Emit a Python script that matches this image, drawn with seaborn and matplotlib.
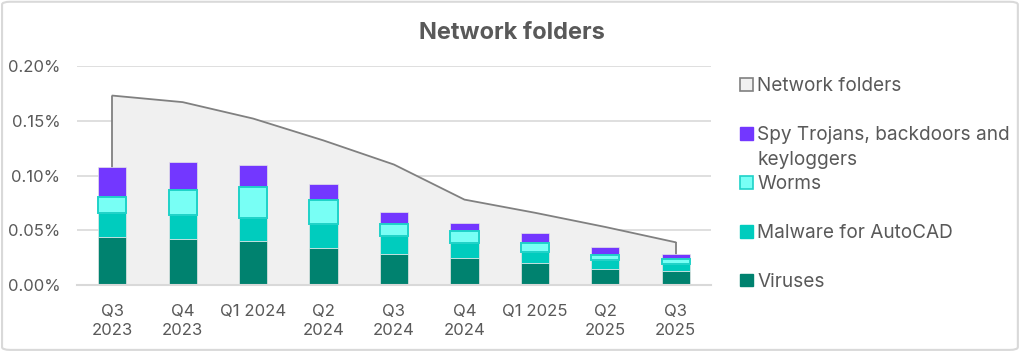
import numpy as np
import matplotlib
matplotlib.use("Agg")
import matplotlib.pyplot as plt
import seaborn as sns
from matplotlib.patches import Patch, FancyBboxPatch

# ---- data (percent) ----
quarters = ["Q3\n2023", "Q4\n2023", "Q1 2024", "Q2\n2024", "Q3\n2024",
            "Q4\n2024", "Q1 2025", "Q2\n2025", "Q3\n2025"]
network_folders = [0.173, 0.167, 0.152, 0.132, 0.110, 0.078, 0.066, 0.053, 0.039]
viruses = [0.044, 0.042, 0.040, 0.034, 0.028, 0.025, 0.020, 0.015, 0.013]
autocad = [0.0215, 0.022, 0.021, 0.0215, 0.017, 0.0135, 0.010, 0.0075, 0.0065]
worms = [0.015, 0.023, 0.0285, 0.022, 0.011, 0.0105, 0.0085, 0.0052, 0.0042]
spy = [0.027, 0.025, 0.020, 0.0145, 0.011, 0.0072, 0.0092, 0.007, 0.0046]

labels = ["Network folders", "Spy Trojans, backdoors and", "Worms",
          "Malware for AutoCAD", "Viruses"]

sns.set_theme(style="white")
plt.rcParams["font.family"] = ["Inter", "DejaVu Sans"]
TXT = "#595959"

c_vir, c_cad, c_worm, c_worm_e, c_spy = "#00826F", "#00CCBE", "#78FFF5", "#1ED2C8", "#7337FF"
c_area, c_line = "#F0F0F0", "#808080"

fig = plt.figure(figsize=(10.24, 3.52), dpi=100)
ax = fig.add_axes([0.0752, 0.1903, 0.6191, 0.6222])

x = np.arange(len(quarters))
nf = np.array(network_folders)

# area
ax.fill_between(x, nf, 0, color=c_area, zorder=1, linewidth=0)
sns.lineplot(x=x, y=nf, ax=ax, color=c_line, lw=1.3, zorder=2)
ax.vlines([x[0], x[-1]], 0, [nf[0], nf[-1]], color=c_line, lw=1.3, zorder=2)

v = np.array(viruses); a = np.array(autocad); w = np.array(worms); s = np.array(spy)
common = dict(ax=ax, width=0.4, order=quarters, zorder=3)
sns.barplot(x=quarters, y=v, color=c_vir, saturation=1, edgecolor="#E6E6E6", linewidth=0.5, **common)
sns.barplot(x=quarters, y=a, bottom=v, color=c_cad, saturation=1, edgecolor="#E6E6E6", linewidth=0.5, **common)
sns.barplot(x=quarters, y=s, bottom=v + a + w, color=c_spy, saturation=1, edgecolor="#E6E6E6", linewidth=0.5, **common)
sns.barplot(x=quarters, y=w, bottom=v + a, color=c_worm, saturation=1, edgecolor=c_worm_e, linewidth=1.4, **common)

ax.set_xlim(-0.5, len(quarters) - 0.5)
ax.set_ylim(0, 0.20)
yt = [0, 0.05, 0.10, 0.15, 0.20]
ax.set_yticks(yt)
ax.set_yticklabels([f"{t:.2f}%" for t in yt])
ax.set_xticks(x)
ax.set_xticklabels(quarters, linespacing=1.3)
ax.set_xlabel(""); ax.set_ylabel("")
ax.tick_params(axis="both", length=0, labelsize=12, colors=TXT)
ax.tick_params(axis="x", pad=14)
ax.tick_params(axis="y", pad=12)
ax.grid(axis="y", color="#D9D9D9", lw=1.2, zorder=0)
ax.set_axisbelow(True)
for sp in ["top", "right", "left"]:
    ax.spines[sp].set_visible(False)
ax.spines["bottom"].set_color("#D9D9D9")
ax.spines["bottom"].set_linewidth(1.5)
ax.spines["bottom"].set_zorder(4)

fig.text(0.5, 0.906, "Network folders", ha="center", va="center",
         fontsize=17, fontweight="bold", color=TXT)

handles = [
    Patch(facecolor=c_area, edgecolor=c_line, lw=1.2),
    Patch(facecolor=c_spy, edgecolor=c_spy),
    Patch(facecolor=c_worm, edgecolor=c_worm_e, lw=1.2),
    Patch(facecolor=c_cad, edgecolor=c_cad),
    Patch(facecolor=c_vir, edgecolor=c_vir),
]
leg = fig.legend(handles, labels, loc="upper left", bbox_to_anchor=(0.723, 0.780),
                 frameon=False, fontsize=13.7, labelspacing=1.62, handlelength=0.64,
                 handleheight=0.64, handletextpad=0.25, borderaxespad=0, borderpad=0)
for t in leg.get_texts():
    t.set_color(TXT)

fig.canvas.draw()
bb = leg.get_texts()[1].get_window_extent()
fig.text(bb.x0 / fig.bbox.width, (bb.y0 - 6.5) / fig.bbox.height, "keyloggers",
         ha="left", va="top", fontsize=13.7, color=TXT)

fig.patches.append(FancyBboxPatch((0.002, 0.006), 0.992, 0.989,
                                  boxstyle="round,pad=0,rounding_size=0.008",
                                  transform=fig.transFigure, fc="none",
                                  ec="#D9D9D9", lw=1.5))

fig.savefig("out.png", dpi=100)
